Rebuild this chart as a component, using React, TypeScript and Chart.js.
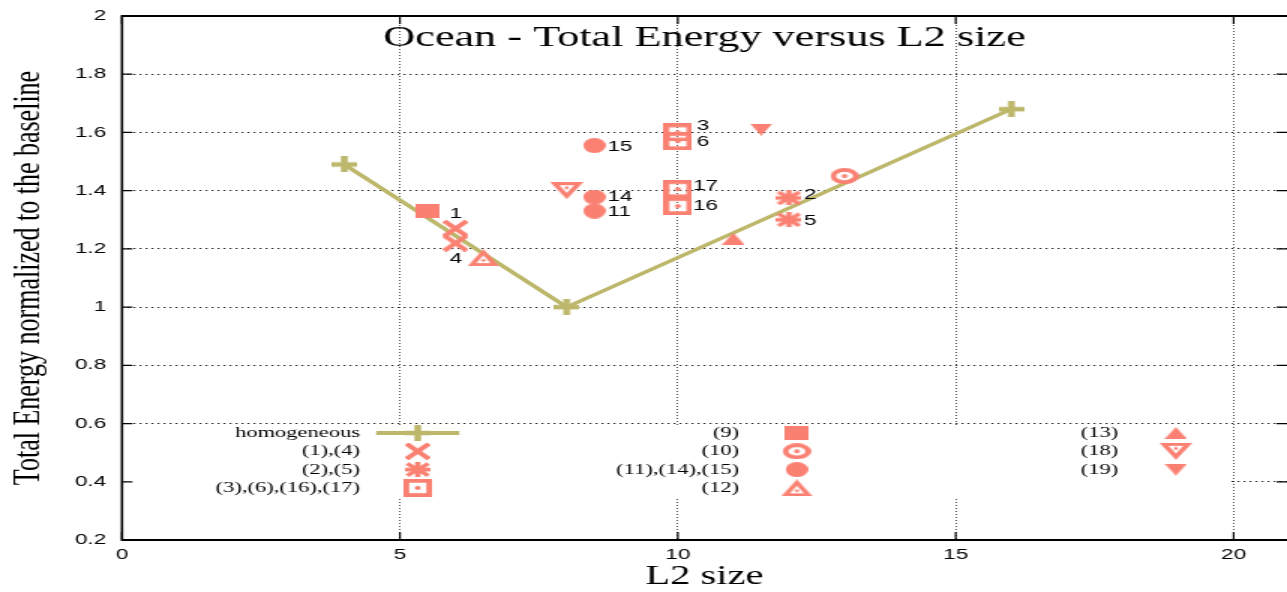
import React, { useEffect, useRef } from 'react';
import { Chart, registerables } from 'chart.js';

Chart.register(...registerables);

// ---------- data ----------
const L2_HOMOGENEOUS = [4, 8, 16];
const E_HOMOGENEOUS = [1.49, 1.0, 1.68];

const L2_1_4 = [6, 6];
const E_1_4 = [1.27, 1.22];
const LBL_1_4 = ['1', '4'];

const L2_2_5 = [12, 12];
const E_2_5 = [1.375, 1.3];
const LBL_2_5 = ['2', '5'];

const L2_3_6_16_17 = [10, 10, 10, 10];
const E_3_6_16_17 = [1.6, 1.57, 1.347, 1.405];
const LBL_3_6_16_17 = ['3', '6', '16', '17'];

const L2_9 = [5.5];
const E_9 = [1.33];

const L2_10 = [13];
const E_10 = [1.45];

const L2_11_14_15 = [8.5, 8.5, 8.5];
const E_11_14_15 = [1.33, 1.378, 1.555];
const LBL_11_14_15 = ['11', '14', '15'];

const L2_12 = [6.5];
const E_12 = [1.17];

const L2_13 = [11];
const E_13 = [1.235];

const L2_18 = [8];
const E_18 = [1.4];

const L2_19 = [11.5];
const E_19 = [1.61];

const X_TICKS = [0, 5, 10, 15, 20];
const X_TICK_LABELS = ['0', '5', '10', '15', '20'];
const Y_TICKS = [0.2, 0.4, 0.6, 0.8, 1.0, 1.2, 1.4, 1.6, 1.8, 2.0];
const Y_TICK_LABELS = ['0.2', '0.4', '0.6', '0.8', '1', '1.2', '1.4', '1.6', '1.8', '2'];

const TITLE = 'Ocean - Total Energy versus L2 size';
const X_TITLE = 'L2 size';
const Y_TITLE = 'Total Energy normalized to the baseline';

// ---------- styles ----------
const W = 1287;
const H = 592;
const STRETCH = 1.5;
const CW = Math.round(W / STRETCH);
const SALMON = '#fa8072';
const KHAKI = '#bdb76b';
const SERIF = "'Liberation Serif', 'DejaVu Serif', serif";
const SANS = "'Liberation Sans', Arial, sans-serif";

// label offsets (canvas px) from the point
const LABEL_OFFSETS: Record<string, [number, number]> = {
  '1': [-4, -15],
  '4': [-4, 16],
  '2': [10, -3],
  '5': [10, 1],
  '3': [12.7, -7],
  '6': [12.7, 1],
  '17': [10, -3],
  '16': [10, 0],
  '15': [8.7, 1],
  '14': [8.7, 0],
  '11': [8.7, 1],
};

type MarkerKind =
  | 'plus' | 'cross' | 'star' | 'boxDot' | 'rect' | 'circleDot'
  | 'circle' | 'triUpDot' | 'triUp' | 'triDownDot' | 'triDown';

const MARKER_SIZE: Record<MarkerKind, [number, number]> = {
  plus: [17, 16],
  cross: [17, 17],
  star: [17, 15],
  boxDot: [19, 18],
  rect: [16, 14],
  circleDot: [19, 16],
  circle: [15, 15],
  triUpDot: [21, 17],
  triUp: [15, 12],
  triDownDot: [22, 17],
  triDown: [15, 12],
};

function makeMarker(kind: MarkerKind, color: string): HTMLCanvasElement {
  const [w, h] = MARKER_SIZE[kind];
  const c = document.createElement('canvas');
  c.width = w;
  c.height = h;
  const ctx = c.getContext('2d')!;
  ctx.fillStyle = color;
  ctx.strokeStyle = color;
  ctx.lineCap = 'butt';
  const cx = w / 2;
  const cy = h / 2;
  const seg = (x1: number, y1: number, x2: number, y2: number) => {
    ctx.beginPath();
    ctx.moveTo(x1, y1);
    ctx.lineTo(x2, y2);
    ctx.stroke();
  };
  const dot = (x: number, y: number, r: number) => {
    ctx.fillStyle = color;
    ctx.beginPath();
    ctx.ellipse(x, y, r, r, 0, 0, Math.PI * 2);
    ctx.fill();
  };
  const tri = (pts: number[][], fill: string) => {
    ctx.fillStyle = fill;
    ctx.beginPath();
    ctx.moveTo(pts[0][0], pts[0][1]);
    ctx.lineTo(pts[1][0], pts[1][1]);
    ctx.lineTo(pts[2][0], pts[2][1]);
    ctx.closePath();
    ctx.fill();
  };
  const shrink = (pts: number[][], gx: number, gy: number, f: number) =>
    pts.map(([x, y]) => [gx + (x - gx) * f, gy + (y - gy) * f]);

  switch (kind) {
    case 'plus':
      ctx.lineWidth = 4.5;
      seg(0, cy, w, cy);
      seg(cx, 0, cx, h);
      break;
    case 'cross':
      ctx.lineWidth = 4;
      seg(1, 1, w - 1, h - 1);
      seg(w - 1, 1, 1, h - 1);
      break;
    case 'star':
      ctx.lineWidth = 3.6;
      seg(1.5, 1.5, w - 1.5, h - 1.5);
      seg(w - 1.5, 1.5, 1.5, h - 1.5);
      seg(0, cy, w, cy);
      seg(cx, 0, cx, h);
      break;
    case 'rect':
      ctx.fillRect(0, 0, w, h);
      break;
    case 'boxDot':
      ctx.lineWidth = 3.8;
      ctx.strokeRect(1.9, 1.9, w - 3.8, h - 3.8);
      dot(cx, cy, 2);
      break;
    case 'circle':
      ctx.beginPath();
      ctx.ellipse(cx, cy, w / 2, h / 2, 0, 0, Math.PI * 2);
      ctx.fill();
      break;
    case 'circleDot':
      ctx.lineWidth = 3.8;
      ctx.beginPath();
      ctx.ellipse(cx, cy, w / 2 - 1.9, h / 2 - 1.9, 0, 0, Math.PI * 2);
      ctx.stroke();
      dot(cx, cy, 2);
      break;
    case 'triUp':
      tri([[cx, 0], [w, h], [0, h]], color);
      break;
    case 'triDown':
      tri([[0, 0], [w, 0], [cx, h]], color);
      break;
    case 'triUpDot': {
      const pts = [[cx, 0], [w, h], [0, h]];
      tri(pts, color);
      tri(shrink(pts, cx, (2 * h) / 3, 0.45), '#ffffff');
      dot(cx, (2 * h) / 3, 1.3);
      break;
    }
    case 'triDownDot': {
      const pts = [[0, 0], [w, 0], [cx, h]];
      tri(pts, color);
      tri(shrink(pts, cx, h / 3, 0.45), '#ffffff');
      dot(cx, h / 3, 1.3);
      break;
    }
  }
  return c;
}

type Series = {
  label: string;
  x: number[];
  y: number[];
  marker: MarkerKind;
  labels?: string[];
  line?: boolean;
};

const SERIES: Series[] = [
  { label: 'homogeneous', x: L2_HOMOGENEOUS, y: E_HOMOGENEOUS, marker: 'plus', line: true },
  { label: '(1),(4)', x: L2_1_4, y: E_1_4, marker: 'cross', labels: LBL_1_4 },
  { label: '(2),(5)', x: L2_2_5, y: E_2_5, marker: 'star', labels: LBL_2_5 },
  { label: '(3),(6),(16),(17)', x: L2_3_6_16_17, y: E_3_6_16_17, marker: 'boxDot', labels: LBL_3_6_16_17 },
  { label: '(9)', x: L2_9, y: E_9, marker: 'rect' },
  { label: '(10)', x: L2_10, y: E_10, marker: 'circleDot' },
  { label: '(11),(14),(15)', x: L2_11_14_15, y: E_11_14_15, marker: 'circle', labels: LBL_11_14_15 },
  { label: '(12)', x: L2_12, y: E_12, marker: 'triUpDot' },
  { label: '(13)', x: L2_13, y: E_13, marker: 'triUp' },
  { label: '(18)', x: L2_18, y: E_18, marker: 'triDownDot' },
  { label: '(19)', x: L2_19, y: E_19, marker: 'triDown' },
];

const framePlugin = {
  id: 'gnuplotFrame',
  beforeDatasetsDraw(chart: any) {
    const { ctx, chartArea, scales } = chart;
    // key box (white) hides the grid behind the legend
    const right = scales.x.getPixelForValue(20) - 1.5;
    ctx.save();
    ctx.fillStyle = '#ffffff';
    ctx.fillRect(chartArea.left + 1, 425, right - chartArea.left - 1, 499 - 425);
    ctx.restore();
  },
  afterDatasetsDraw(chart: any) {
    const { ctx, chartArea, scales, data } = chart;
    const { left, right, top, bottom } = chartArea;
    ctx.save();

    // point labels
    ctx.fillStyle = '#000';
    ctx.font = `15px ${SANS}`;
    ctx.textAlign = 'left';
    ctx.textBaseline = 'middle';
    data.datasets.forEach((ds: any, i: number) => {
      if (!ds.pointLabels) return;
      const meta = chart.getDatasetMeta(i);
      meta.data.forEach((el: any, j: number) => {
        const lbl = ds.pointLabels[j];
        const off = LABEL_OFFSETS[lbl] || [8, 0];
        ctx.fillText(lbl, el.x + off[0], el.y + off[1]);
      });
    });

    // legend (key)
    ctx.font = `15px ${SERIF}`;
    ctx.textAlign = 'right';
    data.datasets.forEach((ds: any, i: number) => {
      const col = Math.floor(i / 4);
      const row = i % 4;
      const ty = 433 + row * 18.3;
      const tx = 240 + col * 252.7;
      const sx = tx + 38.5;
      ctx.fillStyle = '#000';
      ctx.fillText(ds.label, tx, ty);
      if (ds.showLine) {
        ctx.strokeStyle = ds.borderColor;
        ctx.lineWidth = 4;
        ctx.beginPath();
        ctx.moveTo(sx - 27.7, ty);
        ctx.lineTo(sx + 27.7, ty);
        ctx.stroke();
      }
      const img = ds.pointStyle as HTMLCanvasElement;
      ctx.drawImage(img, sx - img.width / 2, ty - img.height / 2);
    });

    // frame
    ctx.strokeStyle = '#000';
    ctx.lineWidth = 2;
    ctx.beginPath();
    ctx.moveTo(left, top);
    ctx.lineTo(right, top);
    ctx.moveTo(left, bottom);
    ctx.lineTo(right, bottom);
    ctx.stroke();
    ctx.lineWidth = 1.6;
    ctx.beginPath();
    ctx.moveTo(left, top - 1);
    ctx.lineTo(left, bottom + 1);
    ctx.stroke();

    // inward ticks (mirrored)
    ctx.lineWidth = 1.2;
    ctx.beginPath();
    scales.y.ticks.forEach((t: any) => {
      const y = scales.y.getPixelForValue(t.value);
      ctx.moveTo(left, y);
      ctx.lineTo(left + 7, y);
      ctx.moveTo(right, y);
      ctx.lineTo(right - 7, y);
    });
    scales.x.ticks.forEach((t: any) => {
      const x = scales.x.getPixelForValue(t.value);
      ctx.moveTo(x, bottom);
      ctx.lineTo(x, bottom - 8);
      ctx.moveTo(x, top);
      ctx.lineTo(x, top + 8);
    });
    ctx.stroke();
    ctx.restore();
  },
};

export default function App() {
  const ref = useRef<HTMLCanvasElement>(null);

  useEffect(() => {
    document.body.style.margin = '0';
    const canvas = ref.current!;
    const datasets = SERIES.map((s) => ({
      label: s.label,
      data: s.x.map((x, i) => ({ x, y: s.y[i] })),
      pointStyle: makeMarker(s.marker, s.line ? KHAKI : SALMON),
      pointRadius: 9,
      pointHoverRadius: 9,
      showLine: !!s.line,
      borderColor: s.line ? KHAKI : SALMON,
      backgroundColor: s.line ? KHAKI : SALMON,
      borderWidth: 3.5,
      order: s.line ? 1 : 0,
      pointLabels: s.labels,
    }));

    const chart = new Chart(canvas, {
      type: 'scatter',
      data: { datasets: datasets as any },
      options: {
        responsive: false,
        animation: false,
        devicePixelRatio: 1,
        layout: { padding: 0, autoPadding: false },
        events: [],
        plugins: {
          legend: { display: false },
          tooltip: { enabled: false },
          title: {
            display: true,
            text: TITLE,
            fullSize: false,
            color: '#000',
            font: { family: SERIF, size: 29.5, weight: 'normal', lineHeight: 1.2 },
            padding: { top: 21, bottom: -40.4 },
          },
        },
        scales: {
          x: {
            type: 'linear',
            position: 'bottom',
            min: 0,
            max: 20.96,
            afterFit: (s: any) => {
              s.height = 52;
              s.paddingLeft = 0;
              s.paddingRight = 0;
            },
            afterBuildTicks: (s: any) => {
              s.ticks = X_TICKS.map((v) => ({ value: v }));
            },
            ticks: {
              autoSkip: false,
              maxRotation: 0,
              padding: 6,
              color: '#000',
              font: { family: SANS, size: 15 },
              callback: (_v: any, i: number) => X_TICK_LABELS[i],
            },
            grid: { color: '#222', lineWidth: 0.8, drawTicks: false },
            border: { display: false, dash: [1, 2] },
            title: {
              display: true,
              text: X_TITLE,
              color: '#000',
              padding: 0,
              font: { family: SERIF, size: 27, lineHeight: 1.15 },
            },
          },
          y: {
            type: 'linear',
            position: 'left',
            min: 0.2,
            max: 2,
            afterFit: (s: any) => {
              s.width = 122 / STRETCH;
              s.paddingTop = 0;
              s.paddingBottom = 0;
            },
            afterBuildTicks: (s: any) => {
              s.ticks = Y_TICKS.map((v) => ({ value: v }));
            },
            ticks: {
              autoSkip: false,
              padding: 10.6,
              color: '#000',
              font: { family: SANS, size: 15 },
              callback: (_v: any, i: number) => Y_TICK_LABELS[i],
            },
            grid: { color: '#222', lineWidth: 1, drawTicks: false },
            border: { display: false, dash: [1.3, 2.7] },
            title: {
              display: true,
              text: Y_TITLE,
              color: '#000',
              padding: 0,
              font: { family: SERIF, size: 26, lineHeight: 1.5 },
            },
          },
        },
      } as any,
      plugins: [framePlugin],
    });

    return () => chart.destroy();
  }, []);

  return (
    <canvas
      ref={ref}
      width={CW}
      height={H}
      style={{ display: 'block', width: `${W}px`, height: `${H}px` }}
    />
  );
}
